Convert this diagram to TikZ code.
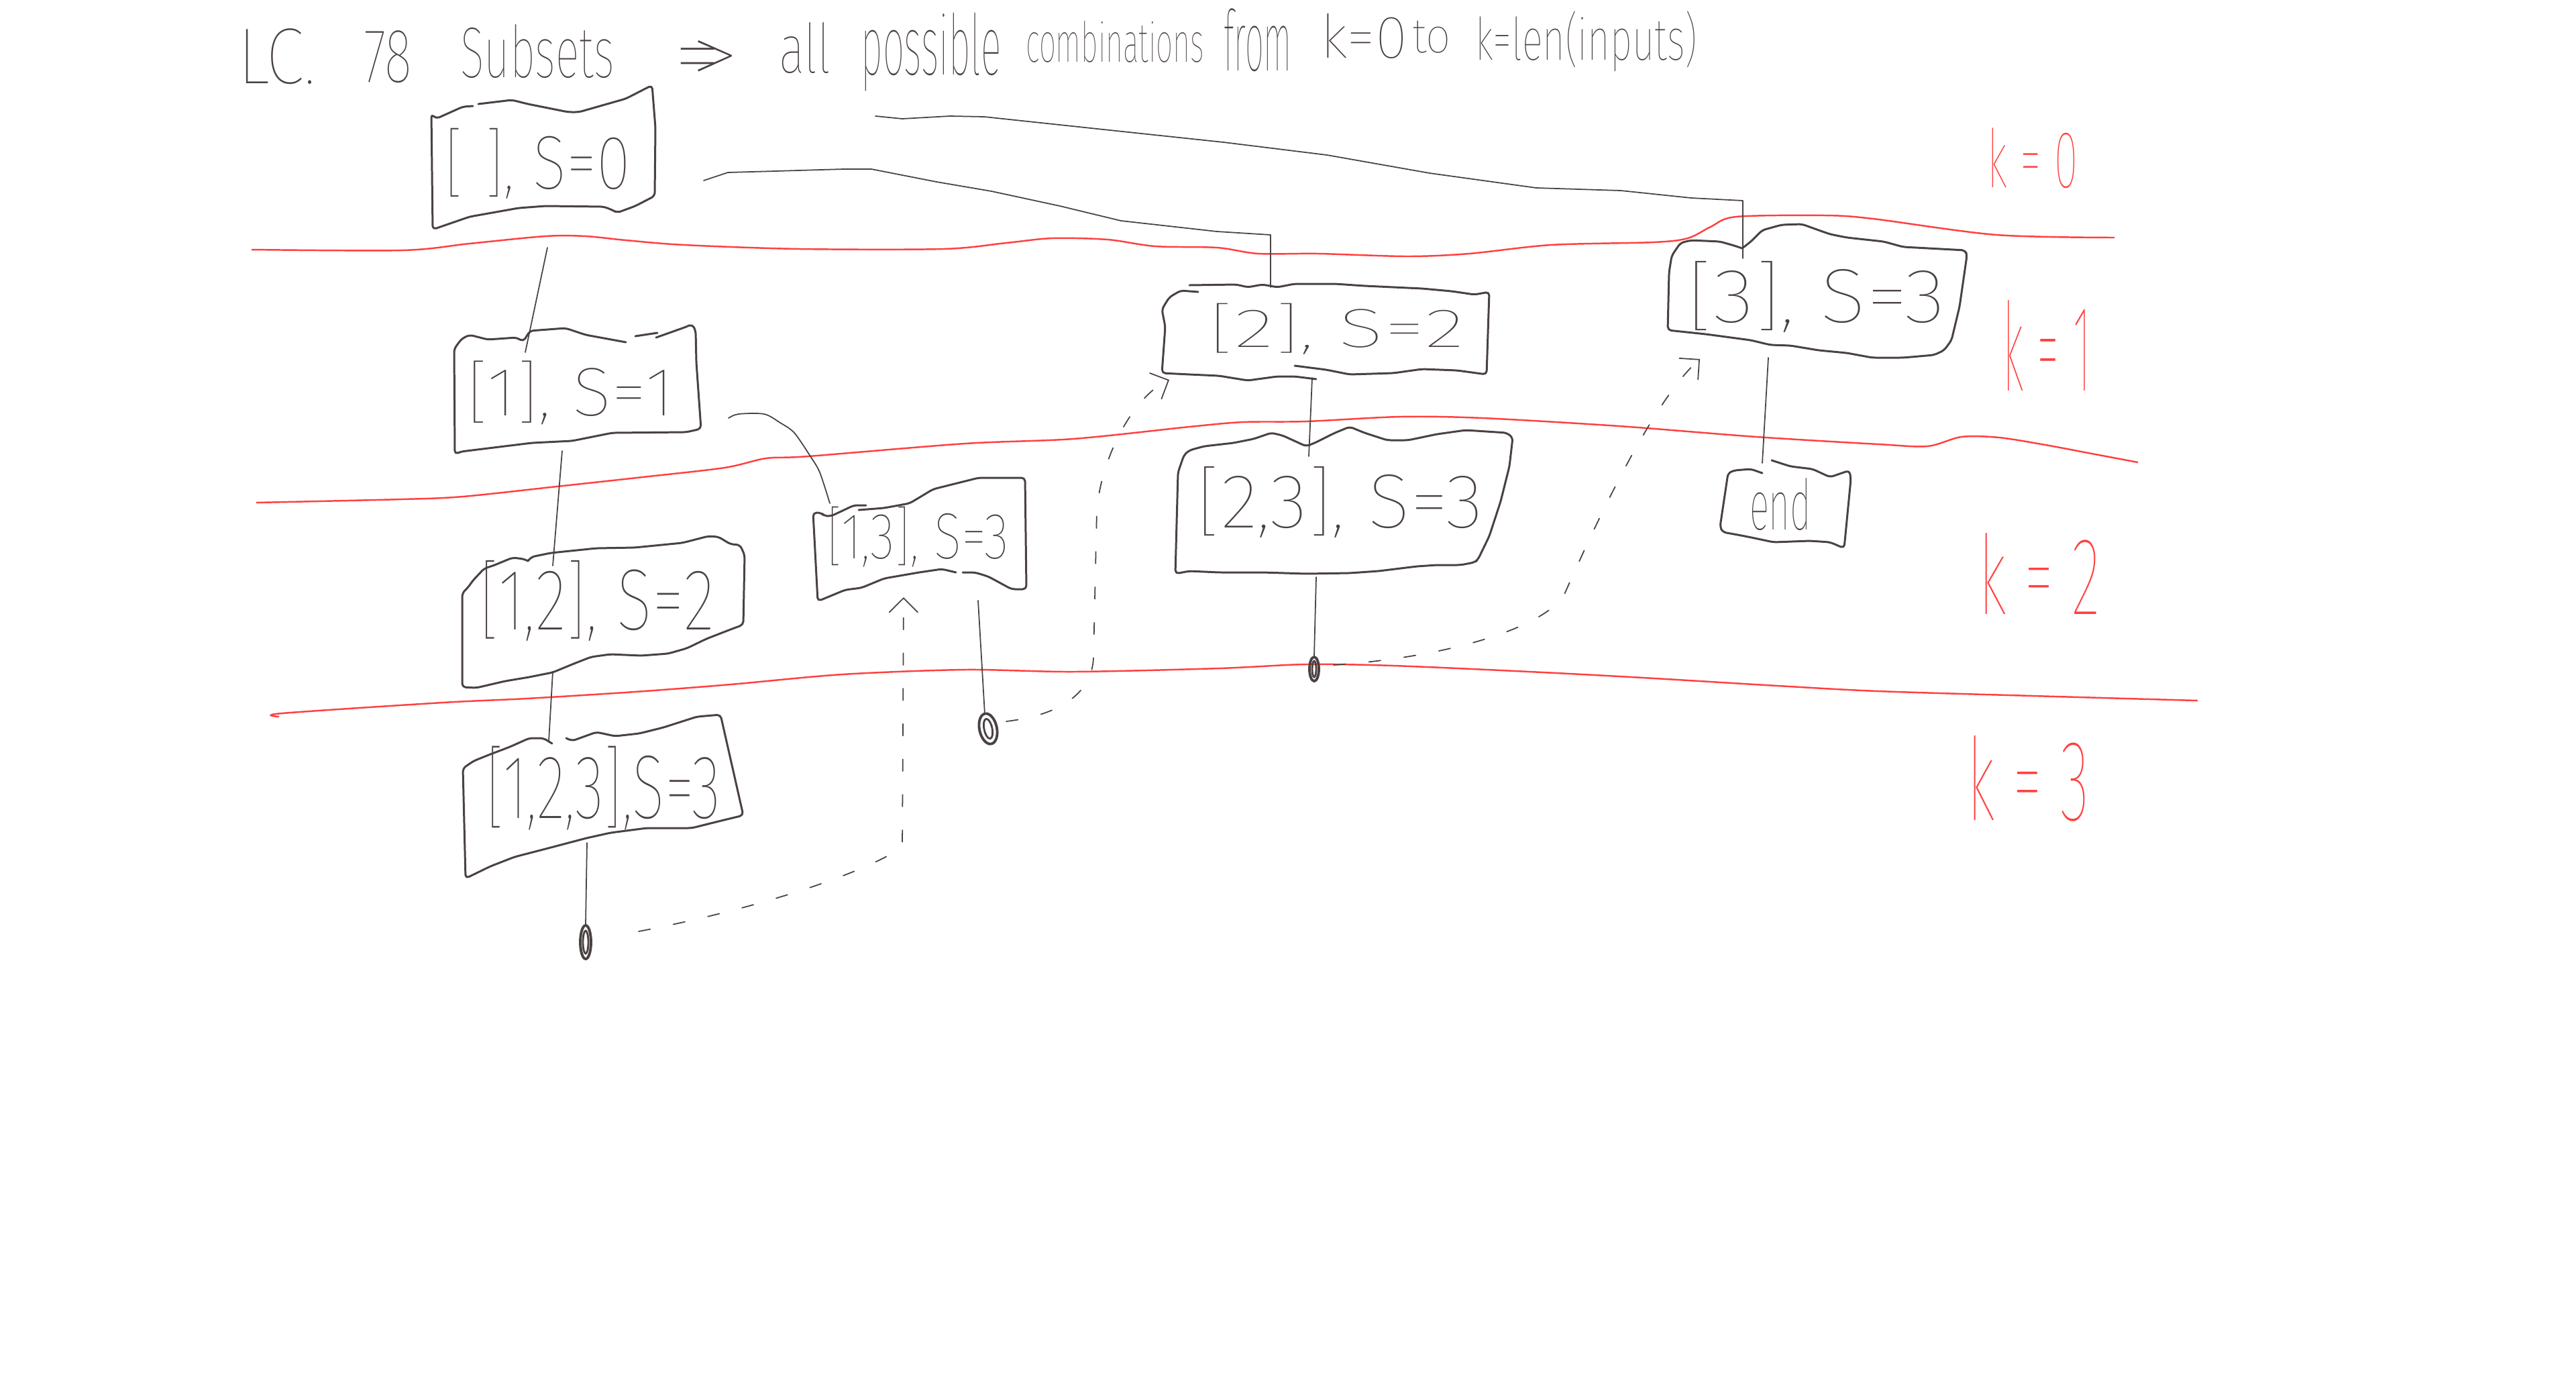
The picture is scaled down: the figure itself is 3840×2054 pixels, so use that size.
\documentclass[tikz,border=0pt]{standalone}
\usepackage{fontspec}
\usepackage{graphicx}
\usetikzlibrary{arrows.meta,shapes.geometric}
% thin pen-like face, lightest weight that is available
\IfFontExistsTF{Fira Sans Thin}{\newfontfamily\hand{Fira Sans Thin}}{%
 \IfFontExistsTF{Fira Sans UltraLight}{\newfontfamily\hand{Fira Sans UltraLight}}{%
  \IfFontExistsTF{Fira Sans ExtraLight}{\newfontfamily\hand{Fira Sans ExtraLight}}{%
   \IfFontExistsTF{Lato Hairline}{\newfontfamily\hand{Lato Hairline}}{%
    \IfFontExistsTF{Fira Sans Light}{\newfontfamily\hand{Fira Sans Light}}{%
     \IfFontExistsTF{Lato Light}{\newfontfamily\hand{Lato Light}}{%
      \newfontfamily\hand{Fira Sans}}}}}}}
\definecolor{ink}{RGB}{74,66,66}
\definecolor{redline}{RGB}{255,64,64}
\newlength\pxu
\setlength\pxu{0.01cm}
% text squeezed into a box of given width and total height (in px units)
\newcommand\hw[3]{\resizebox*{#1\pxu}{#2\pxu}{#3}}
% pen-written double arrow: equals sign closed by an angle
\newcommand\harrow{=\kern-0.32em>}
\tikzset{
  boxline/.style={draw=ink, line width=0.85pt, rounded corners=1.5pt, line join=round, line cap=round},
  link/.style={draw=ink, line width=0.5pt, line cap=round, line join=round},
  hop/.style={link, dash pattern=on 5pt off 10pt, -{Straight Barb[length=6pt,width=12pt,line cap=round]}},
  layer/.style={draw=redline, line width=0.7pt},
  lbl/.style={inner sep=0pt, text=ink, font=\hand\fontsize{30}{30}\selectfont},
  klbl/.style={lbl, text=redline},
  dot/.style={draw=ink, ellipse, line width=1.1pt, inner sep=0pt}
}
\begin{document}
\begin{tikzpicture}[x=0.01cm,y=-0.01cm]
\useasboundingbox (0,0) rectangle (3840,2054);
\fill[white] (0,0) rectangle (3840,2054);

% ---------- level separators ----------
\draw[layer] plot[smooth,tension=0.5] coordinates {(375,372) (600,373) (700,363) (813,352) (873,352) (933,358) (1020,365) (1192,371) (1406,371) (1500,362) (1569,355) (1651,357) (1722,367) (1814,369) (1876,378) (1965,378) (2098,382) (2190,378) (2312,365) (2465,361) (2516,355) (2550,338) (2588,323) (2720,321) (2792,326) (2976,350) (3152,354)};
\draw[layer] plot[smooth,tension=0.5] coordinates {(382,749) (600,744) (690,740) (830,725) (958,711) (1080,697) (1142,683) (1205,680) (1439,661) (1600,654) (1773,636) (1853,629) (1947,628) (2088,621) (2210,623) (2414,635) (2618,651) (2800,662) (2873,665) (2924,651) (2980,652) (3049,663) (3118,676) (3187,689)};
\draw[layer] plot[smooth,tension=0.5] coordinates {(416,1068) (420,1063) (660,1047) (785,1041) (946,1031) (1089,1020) (1256,1005) (1439,998) (1600,1001) (1817,996) (1947,990) (2077,992) (2280,1001) (2450,1010) (2650,1022) (2800,1030) (3030,1037) (3276,1044)};

\node[klbl] (k0) at (3030,236) {\hw{135}{90}{k = 0}};
\node[klbl] (k1) at (3051,515) {\hw{132}{135}{k = 1}};
\node[klbl] (k2) at (3040,855) {\hw{182}{121}{k = 2}};
\node[klbl] (k3) at (3023,1160) {\hw{182}{128}{k = 3}};

% ---------- heading ----------
\node[lbl] (t-lc) at (412,84) {\hw{116}{83}{LC.}};
\node[lbl] (t-78) at (578,85) {\hw{72}{78}{78}};
\node[lbl] (t-sub) at (801,77) {\hw{230}{80}{Subsets}};
\node[lbl] (t-arr) at (1053,94) {\hw{100}{68}{\harrow}};
\node[lbl] (t-all) at (1200,72) {\hw{78}{76}{all}};
\node[lbl] (t-pos) at (1388,78) {\hw{209}{117}{possible}};
\node[lbl] (t-comb) at (1662,62) {\hw{266}{62}{combinations}};
\node[lbl] (t-from) at (1875,60) {\hw{101}{94}{from}};
\node[lbl] (t-k0) at (2033,54) {\hw{130}{67}{k=0}};
\node[lbl] (t-to) at (2134,55) {\hw{58}{48}{to}};
\node[lbl] (t-len) at (2365,62) {\hw{331}{90}{k=len(inputs)}};

% ---------- subset nodes ----------
\node[lbl] (root) at (801,244) {\hw{278}{105}{[\,\,], S=0}};
\node[lbl] (n1) at (850,585) {\hw{310}{95}{[1], S=1}};
\node[lbl] (n12) at (890,895) {\hw{351}{120}{[1,2], S=2}};
\node[lbl] (n123) at (899,1175) {\hw{350}{125}{[1,2,3],S=3}};
\node[lbl] (n13) at (1368,800) {\hw{272}{90}{[1,3], S=3}};
\node[lbl] (n2) at (1992,490) {\hw{381}{76}{[2], S=2}};
\node[lbl] (n23) at (1997,748) {\hw{427}{106}{[2,3], S=3}};
\node[lbl] (n3) at (2707,442) {\hw{385}{106}{[3], S=3}};
\node[lbl] (end) at (2654,752) {\hw{92}{78}{end}};

% wavy outlines
\draw[boxline] (705,158) -- (690,159) -- (650,177) -- (643,170) -- (645,342) -- (700,323) -- (773,310) -- (813,307) -- (900,308) -- (913,313) -- (920,317) -- (947,307) -- (976,292) -- (977,190) -- (972,127) -- (933,147) -- (863,167) -- (847,167) -- (787,155) -- (763,149) -- (713,155);
\draw[boxline] (933,510) -- (873,499) -- (843,489) -- (790,493) -- (780,509) -- (770,503) -- (727,506) -- (700,499) -- (688,505) -- (677,520) -- (678,677) -- (687,673) -- (793,660) -- (853,657) -- (913,645) -- (1023,644) -- (1045,639) -- (1038,540) -- (1037,493) -- (1032,483) -- (1023,487) -- (978,503) (947,501) -- (980,496);
\draw[boxline] (787,836) -- (781,833) -- (764,831) -- (735,843) -- (722,847) -- (705,865) -- (698,875) -- (689,884) -- (689,1024) -- (710,1025) -- (753,1015) -- (789,1009) -- (824,1002) -- (853,990) -- (881,979) -- (910,975) -- (956,977) -- (996,974) -- (1024,966) -- (1053,952) -- (1089,938) -- (1108,931) -- (1110,827) -- (1103,812) -- (1089,811) -- (1071,800) -- (1056,799) -- (1017,809) -- (946,816) -- (889,817) -- (821,824) -- (792,830) -- (787,836);
\draw[boxline] (823,1108) -- (810,1100) -- (789,1100) -- (760,1113) -- (731,1124) -- (706,1134) -- (690,1145) -- (694,1309) -- (731,1291) -- (767,1277) -- (821,1263) -- (874,1249) -- (910,1241) -- (964,1234) -- (1031,1234) -- (1071,1224) -- (1108,1215) -- (1074,1065) -- (1039,1068) -- (989,1084) -- (953,1093) -- (917,1097) -- (889,1091) -- (853,1104) -- (844,1100);
\draw[boxline] (1291,753) -- (1273,753) -- (1239,769) -- (1229,769) -- (1224,764) -- (1212,764) -- (1219,896) -- (1260,879) -- (1284,876) -- (1318,862) -- (1370,853) -- (1404,848) -- (1425,853) (1435,853) -- (1453,853) -- (1473,859) -- (1508,878) -- (1530,878) -- (1528,712) -- (1459,712) -- (1427,720) -- (1391,729) -- (1356,750) -- (1318,757) -- (1280,760);
\draw[boxline] (1786,435) -- (1760,433) -- (1743,443) -- (1732,461) -- (1737,487) -- (1732,556) -- (1773,558) -- (1817,560) -- (1860,567) -- (1904,561) -- (1930,561) -- (1962,565) (1930,545) -- (1977,551) -- (2012,558) -- (2077,556) -- (2120,550) -- (2172,552) -- (2216,558) -- (2220,435) -- (2198,439) -- (2164,434) -- (2120,430) -- (2034,426) -- (1990,423) -- (1930,423) -- (1904,428) -- (1882,424) -- (1860,428) -- (1843,424) -- (1773,425);
\draw[boxline] (1756,704) -- (1765,678) -- (1773,671) -- (1795,665) -- (1839,660) -- (1869,654) -- (1895,645) -- (1912,649) -- (1947,665) -- (1960,660) -- (1990,645) -- (2012,636) -- (2034,645) -- (2068,656) -- (2099,656) -- (2142,647) -- (2185,641) -- (2246,645) -- (2255,652) -- (2250,695) -- (2237,747) -- (2220,799) -- (2203,834) -- (2198,838) -- (2177,842) -- (2142,842) -- (2112,844) -- (2055,851) -- (2012,854) -- (1947,855) -- (1882,853) -- (1817,853) -- (1773,851) -- (1752,855) -- cycle;
\draw[boxline] (2597,370) -- (2585,366) -- (2564,360) -- (2521,358) -- (2505,362) -- (2492,381) -- (2488,406) -- (2486,492) -- (2543,498) -- (2610,507) -- (2639,514) -- (2669,515) -- (2711,522) -- (2753,526) -- (2791,533) -- (2837,533) -- (2883,529) -- (2898,522) -- (2909,507) -- (2921,457) -- (2932,381) -- (2930,373) -- (2837,368) -- (2808,360) -- (2753,354) -- (2728,349) -- (2711,343) -- (2686,334) -- (2656,335) -- (2627,343) -- (2610,360) -- (2597,370);
\draw[boxline] (2627,705) -- (2610,699) -- (2585,701) -- (2576,705) -- (2564,785) -- (2568,793) -- (2585,796) -- (2606,800) -- (2644,808) -- (2698,806) -- (2728,808) -- (2749,817) -- (2759,714) -- (2757,701) -- (2728,711) -- (2702,699) -- (2669,695) -- (2641,686);

% ---------- leaf markers ----------
\node[dot, minimum width=16\pxu, minimum height=50\pxu] (c1) at (873,1404) {};
\draw[ink, line width=0.8pt] (c1.center) ellipse (4 and 17);
\node[dot, minimum width=26\pxu, minimum height=46\pxu, rotate=12] (c2) at (1473,1086) {};
\draw[ink, line width=0.8pt, rotate around={12:(c2.center)}] (c2.center) ellipse (6 and 15);
\node[dot, minimum width=14\pxu, minimum height=36\pxu] (c3) at (1959,997) {};
\draw[ink, line width=0.8pt] (c3.center) ellipse (3 and 12);

% ---------- connector ends ----------
\coordinate (root-b) at (816,369);
\coordinate (root-r) at (1049,269);
\coordinate (t-pos-b) at (1305,173);
\coordinate (n1-t) at (783,525);
\coordinate (n1-b) at (838,672);
\coordinate (n1-r) at (1086,623);
\coordinate (n12-t) at (824,843);
\coordinate (n12-b) at (824,1001);
\coordinate (n123-t) at (818,1105);
\coordinate (n123-b) at (875,1256);
\coordinate (n13-t) at (1237,750);
\coordinate (n13-b) at (1458,895);
\coordinate (n13-in) at (1347,890);
\coordinate (n2-t) at (1894,428);
\coordinate (n2-b) at (1956,563);
\coordinate (n2-in) at (1743,566);
\coordinate (n23-t) at (1951,680);
\coordinate (n23-b) at (1962,860);
\coordinate (n3-t) at (2598,385);
\coordinate (n3-b) at (2636,533);
\coordinate (n3-in) at (2534,535);
\coordinate (end-t) at (2627,690);
\coordinate (c1-out) at (952,1388);
\coordinate (c2-out) at (1500,1075);
\coordinate (c3-out) at (1988,991);

% ---------- tree edges ----------
\draw[link] (root-b) -- (n1-t);
\draw[link] (n1-b) -- (n12-t);
\draw[link] (n12-b) -- (n123-t);
\draw[link] (n123-b) -- (c1.north);
\draw[link] plot[smooth,tension=0.5] coordinates {(n1-r) (1101,617) (1139,617) (1163,630) (1184,645) (1208,680) (1222,704) (n13-t)};
\draw[link] (n13-b) -- (c2.north);
\draw[link] (root-r) -- (1085,257) -- (1156,255) -- (1258,252) -- (1299,252) -- (1396,271) -- (1478,285) -- (1580,307) -- (1671,329) -- (1814,345) -- (1894,350) -- (n2-t);
\draw[link] (n2-b) -- (n23-t);
\draw[link] (n23-b) -- (c3.north);
\draw[link] (t-pos-b) -- (1345,177) -- (1416,173) -- (1467,174) -- (1692,198) -- (1824,212) -- (1978,231) -- (2131,258) -- (2290,280) -- (2416,284) -- (2521,295) -- (2598,299) -- (n3-t);
\draw[link] (n3-b) -- (end-t);

% ---------- backtracking hops ----------
\draw[hop] (c1-out) .. controls (1150,1350) and (1300,1295) .. (1345,1262) -- (n13-in);
\draw[hop] (c2-out) .. controls (1585,1065) and (1628,1030) .. (1630,980) -- (1635,760) .. controls (1642,680) and (1690,590) .. (n2-in);
\draw[hop] (c3-out) .. controls (2150,980) and (2290,940) .. (2330,890) .. controls (2370,800) and (2460,600) .. (n3-in);
\end{tikzpicture}
\end{document}
